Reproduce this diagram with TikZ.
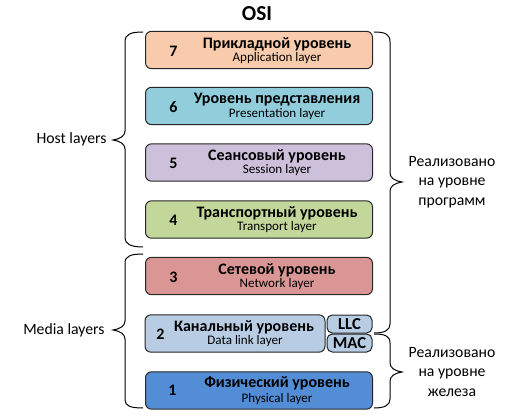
\documentclass[tikz,border=0pt]{standalone}
\usepackage{fontspec}
\setmainfont{Carlito}
\usetikzlibrary{calc}

\definecolor{appcol}{RGB}{248,203,173}
\definecolor{prescol}{RGB}{146,205,220}
\definecolor{sesscol}{RGB}{204,192,218}
\definecolor{trancol}{RGB}{196,215,155}
\definecolor{netcol}{RGB}{218,150,148}
\definecolor{linkcol}{RGB}{184,204,228}
\definecolor{physcol}{RGB}{83,141,213}

\tikzset{every picture/.style={line width=0.75pt}}
\tikzset{
  layerbox/.style={draw=black!85, rounded corners=4.5pt, inner sep=0pt,
    minimum width=170.25pt, minimum height=28pt},
  subbox/.style={draw=black!85, rounded corners=4pt, inner sep=0pt,
    minimum width=33.75pt, minimum height=13.5pt, font=\fontsize{12.5}{13}\selectfont\bfseries},
  numtxt/.style={inner sep=0.75pt, font=\fontsize{12}{13}\selectfont\bfseries},
  titletxt/.style={inner sep=0.75pt, font=\fontsize{12}{13}\selectfont\bfseries},
  subtxt/.style={inner sep=0.75pt, font=\fontsize{9.8}{11}\selectfont},
  sidetxt/.style={inner sep=0.75pt, font=\fontsize{11.8}{14.6}\selectfont, align=center}
}

\begin{document}
\begin{tikzpicture}[x=0.75pt,y=0.75pt,yscale=-1,xscale=1]
\useasboundingbox (0,0) rectangle (520,416);

% Title
\node[inner sep=0.75pt, font=\fontsize{16}{18}\selectfont\bfseries] (osi) at (257,14) {OSI};

%Shape: Layers
\node[layerbox, fill=appcol] (l7) at (259,50) {};
\node[layerbox, fill=prescol] (l6) at (259,106) {};
\node[layerbox, fill=sesscol] (l5) at (259,162.5) {};
\node[layerbox, fill=trancol] (l4) at (259,219.5) {};
\node[layerbox, fill=netcol] (l3) at (259,276) {};
\node[layerbox, fill=linkcol, minimum width=135pt] (l2) at (235,333.5) {};
\node[subbox, fill=linkcol] (llc) at (349.5,324) {LLC};
\node[subbox, fill=linkcol] (mac) at (349.5,343) {MAC};
\node[layerbox, fill=physcol] (l1) at (259,390.5) {};

% Text Node: numbers
\node[numtxt] (n7) at ($(l7.west)+(28.5,1)$) {7};
\node[numtxt] (n6) at ($(l6.west)+(28.5,1)$) {6};
\node[numtxt] (n5) at ($(l5.west)+(28.5,1)$) {5};
\node[numtxt] (n4) at ($(l4.west)+(28.5,1)$) {4};
\node[numtxt] (n3) at ($(l3.west)+(28.5,1)$) {3};
\node[numtxt] (n2) at ($(l2.west)+(16,0.5)$) {2};
\node[numtxt] (n1) at ($(l1.west)+(27.5,0)$) {1};

% Text Node: layer names
\node[titletxt] (t7) at ($(l7.center)+(18,-6)$) {Прикладной уровень};
\node[subtxt] (s7) at ($(l7.center)+(18,8)$) {Application layer};
\node[titletxt] (t6) at ($(l6.center)+(18,-6)$) {Уровень представления};
\node[subtxt] (s6) at ($(l6.center)+(18,8)$) {Presentation layer};
\node[titletxt] (t5) at ($(l5.center)+(18,-6)$) {Сеансовый уровень};
\node[subtxt] (s5) at ($(l5.center)+(18,8)$) {Session layer};
\node[titletxt] (t4) at ($(l4.center)+(18,-6)$) {Транспортный уровень};
\node[subtxt] (s4) at ($(l4.center)+(18,8)$) {Transport layer};
\node[titletxt] (t3) at ($(l3.center)+(18,-6)$) {Сетевой уровень};
\node[subtxt] (s3) at ($(l3.center)+(18,8)$) {Network layer};
\node[titletxt] (t2) at ($(l2.center)+(9,-6.5)$) {Канальный уровень};
\node[subtxt] (s2) at ($(l2.center)+(10,8)$) {Data link layer};
\node[titletxt] (t1) at ($(l1.center)+(18,-7)$) {Физический уровень};
\node[subtxt] (s1) at ($(l1.center)+(18,8.5)$) {Physical layer};

%Curve Lines: Host brace
\draw (143,32) .. controls (131,32) and (125,34) .. (125,42) -- (125,131) .. controls (125,136) and (120,139) .. (113,140) .. controls (120,141) and (125,144) .. (125,149) -- (125,238) .. controls (125,244) and (131,247) .. (143,247) ;
%Curve Lines: Media brace
\draw (143,254) .. controls (131,254) and (125,256) .. (125,263) -- (125,321) .. controls (125,326) and (120,329) .. (113,330) .. controls (120,331) and (125,334) .. (125,339) -- (125,400) .. controls (125,406) and (131,408) .. (143,408) ;
%Curve Lines: software brace
\draw (374,32) .. controls (385,32) and (390,34) .. (390,42) -- (390,173) .. controls (390,178) and (395,181) .. (402,182) .. controls (395,183) and (390,186) .. (390,191) -- (390,324) .. controls (390,330) and (385,333) .. (374,333) ;
%Curve Lines: hardware brace
\draw (374,334) .. controls (385,334) and (390,336) .. (390,343) -- (390,363) .. controls (390,368) and (395,371) .. (402,372) .. controls (395,373) and (390,376) .. (390,381) -- (390,399) .. controls (390,405) and (385,408) .. (374,408) ;

% Text Node: side labels
\node[sidetxt, anchor=east] (host) at (108,139) {Host layers};
\node[sidetxt, anchor=east] (media) at (106,330) {Media layers};
\node[sidetxt] (soft) at (452,182) {Реализовано\\на уровне\\программ};
\node[sidetxt] (hard) at (452,372) {Реализовано\\на уровне\\железа};

\end{tikzpicture}
\end{document}
